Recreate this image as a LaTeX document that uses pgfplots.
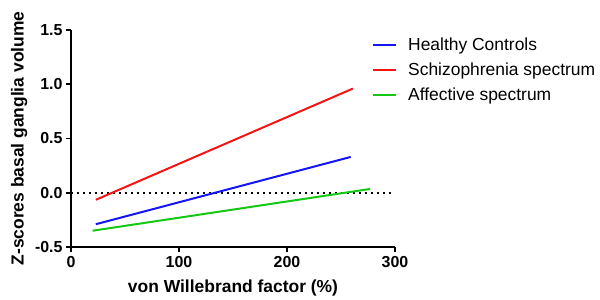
\documentclass[border=0pt]{standalone}
\usepackage{pgfplots}
\pgfplotsset{compat=1.18}
\usepackage{fontspec}
\setmainfont{Liberation Sans}
\definecolor{hcblue}{RGB}{20,20,245}
\definecolor{szred}{RGB}{245,20,20}
\definecolor{afgreen}{RGB}{20,200,20}
\begin{document}
\begin{tikzpicture}[x=1bp,y=1bp]
\begin{axis}[
  scale only axis,
  width=324bp, height=217bp,
  xmin=0, xmax=300, ymin=-0.5, ymax=1.5,
  axis x line*=bottom, axis y line*=left,
  axis line style={line width=1.8bp, -},
  xtick={0,100,200,300},
  ytick={-0.5,0,0.5,1,1.5},
  yticklabels={-0.5,0.0,0.5,1.0,1.5},
  tick style={line width=1.8bp, black},
  major tick length=5bp,
  tick align=outside,
  /pgf/number format/assume math mode=true,
  ticklabel style={font=\fontsize{16}{16}\selectfont\bfseries},
  xticklabel style={yshift=-1bp},
  xlabel={von Willebrand factor (\%)},
  ylabel={Z-scores basal ganglia volume},
  label style={font=\fontsize{17.5}{18}\selectfont\bfseries},
  xlabel style={at={(axis description cs:0.5,-0.189)}, anchor=center},
  ylabel style={at={(axis description cs:-0.160,0.5)}, anchor=center, rotate=0},
  clip=false,
  legend style={at={(axis description cs:0.929,0.972)}, anchor=north west,
    draw=none, fill=none, font=\fontsize{17.5}{17.5}\selectfont,
    row sep=6.5bp, inner sep=0pt, cells={anchor=west}},
  legend image code/.code={\draw[#1] (0bp,0bp) -- (23bp,0bp); \path (32bp,0bp);},
]
\addplot[black, line width=2bp, dash pattern=on 2bp off 4bp, forget plot] coordinates {(0,0) (300,0)};
\addplot[hcblue, line width=2bp] coordinates {(23,-0.29) (259,0.33)};
\addlegendentry{Healthy Controls}
\addplot[szred, line width=2bp] coordinates {(23,-0.065) (261,0.96)};
\addlegendentry{Schizophrenia spectrum}
\addplot[afgreen, line width=2bp] coordinates {(20,-0.35) (277,0.035)};
\addlegendentry{Affective spectrum}
\end{axis}
\path[use as bounding box] (-71bp,-53bp) rectangle (529bp,247bp);
\end{tikzpicture}
\end{document}
